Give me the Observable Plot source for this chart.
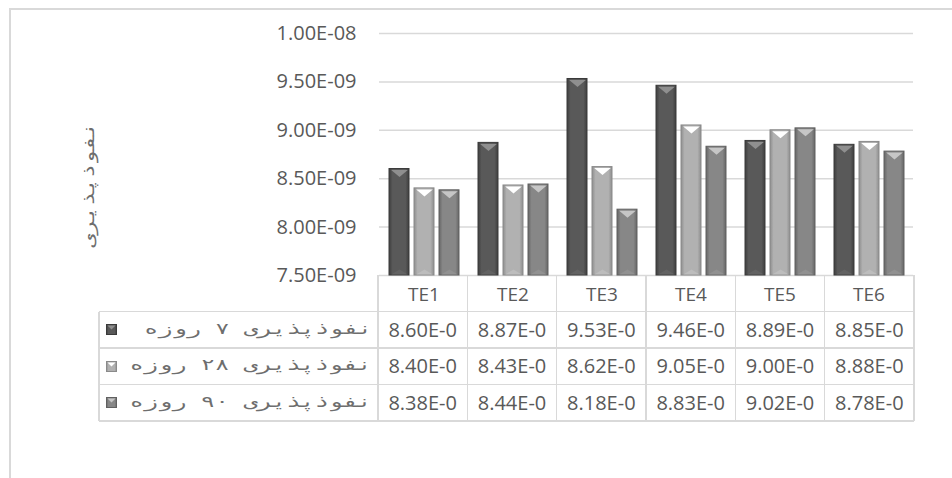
<!DOCTYPE html>
<html><head><meta charset="utf-8">
<script src="https://cdn.jsdelivr.net/npm/d3@7"></script>
<script src="https://cdn.jsdelivr.net/npm/@observablehq/plot@0.6"></script>
<style>
body{margin:0;background:#fff;}
#wrap{position:relative;width:952px;height:478px;overflow:hidden;font-family:"Open Sans",sans-serif;color:#595959;background:#fff;}
#wrap svg.plot{position:absolute;left:0;top:0;}
.ln{position:absolute;background:#d9d9d9;}
.cell{position:absolute;text-align:center;font-size:20px;line-height:36px;white-space:nowrap;overflow:hidden;}
.rowlab{position:absolute;direction:rtl;text-align:right;font-family:"DejaVu Sans Mono",monospace;font-size:16px;color:#6e6e6e;white-space:nowrap;transform-origin:100% 50%;transform:scaleX(1.48);}
.key{position:absolute;width:11px;height:11px;}
#ytitle{position:absolute;font-family:"DejaVu Sans Mono",monospace;font-size:16px;color:#6e6e6e;white-space:nowrap;direction:rtl;transform:translate(-50%,-50%) rotate(-90deg) scaleX(1.45);}
</style></head><body>
<svg width="0" height="0" style="position:absolute">
<defs>
<linearGradient id="g0" x1="0" x2="1" y1="0" y2="0"><stop offset="0" stop-color="#3e3e3e"/><stop offset="0.18" stop-color="#595959"/><stop offset="0.82" stop-color="#595959"/><stop offset="1" stop-color="#3e3e3e"/></linearGradient>
<linearGradient id="g1" x1="0" x2="1" y1="0" y2="0"><stop offset="0" stop-color="#8e8e8e"/><stop offset="0.18" stop-color="#b1b1b1"/><stop offset="0.82" stop-color="#b1b1b1"/><stop offset="1" stop-color="#8e8e8e"/></linearGradient>
<linearGradient id="g2" x1="0" x2="1" y1="0" y2="0"><stop offset="0" stop-color="#666666"/><stop offset="0.18" stop-color="#878787"/><stop offset="0.82" stop-color="#878787"/><stop offset="1" stop-color="#666666"/></linearGradient>
</defs></svg>
<div id="wrap"></div>
<script>
// ---- data ----
const categories = ["TE1", "TE2", "TE3", "TE4", "TE5", "TE6"];
const seriesNames = ["نفوذپذیری ۷ روزه", "نفوذپذیری ۲۸ روزه", "نفوذپذیری ۹۰ روزه"];
const values7 = [8.60e-9, 8.87e-9, 9.53e-9, 9.46e-9, 8.89e-9, 8.85e-9];
const values28 = [8.40e-9, 8.43e-9, 8.62e-9, 9.05e-9, 9.00e-9, 8.88e-9];
const values90 = [8.38e-9, 8.44e-9, 8.18e-9, 8.83e-9, 9.02e-9, 8.78e-9];
const yTicks = [7.5e-9, 8.0e-9, 8.5e-9, 9.0e-9, 9.5e-9, 1.0e-8];
const yTitle = "نفوذپذیری";

// ---- build ----
const seriesValues = [values7, values28, values90];
const fills = ["url(#g0)", "url(#g1)", "url(#g2)"];
const strokes = ["#3a3a3a", "#8a8a8a", "#606060"];
const topTri = ["#8f8f8f", "#ffffff", "#c6c6c6"];
const botTri = ["#666666", "#c2c2c2", "#959595"];
const keyIds = ["s0", "s1", "s2"];
const rows = [];
seriesValues.forEach((vals, s) => vals.forEach((v, i) => rows.push({cat: categories[i], series: keyIds[s], s, value: v})));
const yMin = yTicks[0];

function sci(v, digits) {
  const [m, e] = v.toExponential(digits).split("e");
  const n = Math.abs(+e);
  return `${m}E${+e < 0 ? "-" : "+"}${String(n).padStart(2, "0")}`;
}
const downTri = {draw(c) { c.moveTo(-8.3, 1); c.lineTo(8.3, 1); c.lineTo(0, 8); c.closePath(); }};
const upTri = {draw(c) { c.moveTo(-8.3, -1); c.lineTo(8.3, -1); c.lineTo(0, -6); c.closePath(); }};

const marks = [Plot.ruleY(yTicks, {stroke: "#d9d9d9", strokeWidth: 1.5})];
keyIds.forEach((k, s) => {
  const d = rows.filter(r => r.s === s);
  marks.push(Plot.barY(d, {fx: "cat", x: "series", y1: yMin, y2: "value", fill: fills[s], stroke: strokes[s], strokeWidth: 1}));
  marks.push(Plot.dot(d, {fx: "cat", x: "series", y: "value", symbol: downTri, fill: topTri[s], stroke: "none"}));
  marks.push(Plot.dot(d, {fx: "cat", x: "series", y: () => yMin, symbol: upTri, fill: botTri[s], stroke: "none", fillOpacity: 0.7}));
});
marks.push(Plot.axisY({ticks: yTicks, tickSize: 0, tickPadding: 23, tickFormat: d => sci(d, 2), fontSize: 20, label: null}));
marks.push(Plot.axisFx({anchor: "bottom", tickSize: 0, tickPadding: 12, fontSize: 19, label: null}));

const W = 952, H = 478, mL = 378, mR = 38, mT = 33, mB = 203;
const chart = Plot.plot({
  width: W, height: H,
  marginLeft: mL, marginRight: mR, marginTop: mT, marginBottom: mB,
  style: {fontFamily: "'Open Sans', sans-serif", color: "#595959", background: "transparent", overflow: "visible"},
  fx: {domain: categories, padding: 0, label: null},
  x: {domain: keyIds, paddingInner: 0.21, paddingOuter: 0.36, axis: null},
  y: {domain: [yTicks[0], yTicks[yTicks.length - 1]], axis: null},
  marks
});
chart.classList.add("plot");
const wrap = document.getElementById("wrap");
wrap.appendChild(chart);

// ---- frame ----
function line(x, y, w, h) { const e = document.createElement("div"); e.className = "ln"; Object.assign(e.style, {left: x + "px", top: y + "px", width: w + "px", height: h + "px"}); wrap.appendChild(e); }
line(9, 8, W - 9, 1.5);
line(9, 8, 1.5, H - 8);

// ---- data table ----
const colW = (W - mL - mR) / categories.length;
const tableTop = H - mB, rowH = 36.5, tableLeft = 99;
const right = mL + colW * categories.length;
for (let i = 0; i <= categories.length; i++) line(mL + i * colW - 0.75, tableTop, 1.5, rowH * 4);
line(tableLeft - 0.75, tableTop + rowH, 1.5, rowH * 3);
for (let r = 1; r <= 4; r++) line(tableLeft, tableTop + r * rowH - 0.75, right - tableLeft, 1.5);
seriesValues.forEach((vals, s) => {
  const top = tableTop + (s + 1) * rowH;
  vals.forEach((v, i) => {
    const c = document.createElement("div"); c.className = "cell";
    Object.assign(c.style, {left: (mL + i * colW) + "px", top: top + "px", width: colW + "px", height: rowH + "px"});
    c.textContent = sci(v, 2).slice(0, 7);
    wrap.appendChild(c);
  });
  const lab = document.createElement("div"); lab.className = "rowlab";
  Object.assign(lab.style, {right: (W - mL + 6) + "px", top: (top + 7) + "px"});
  lab.textContent = seriesNames[s];
  wrap.appendChild(lab);
  const key = document.createElementNS("http://www.w3.org/2000/svg", "svg");
  key.setAttribute("class", "key"); key.setAttribute("viewBox", "0 0 11 11");
  key.style.left = "106px"; key.style.top = (top + rowH / 2 - 5.5) + "px";
  key.innerHTML = `<rect x="0.5" y="0.5" width="10" height="10" fill="${fills[s]}" stroke="${strokes[s]}"/><path d="M1.5 1.5 L9.5 1.5 L5.5 5.5Z" fill="${topTri[s]}"/>`;
  wrap.appendChild(key);
});

// ---- y title ----
const yt = document.createElement("div"); yt.id = "ytitle"; yt.textContent = yTitle;
Object.assign(yt.style, {left: "88px", top: "185px"});
wrap.appendChild(yt);
</script>
</body></html>
